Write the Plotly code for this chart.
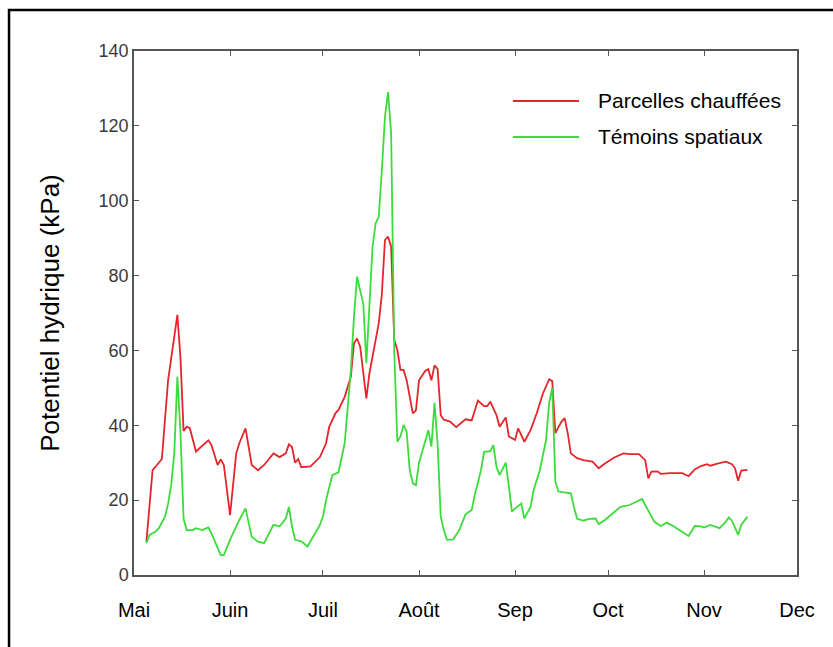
import pandas as pd
import plotly.graph_objects as go

# Jours écoulés depuis le 1er mai et potentiel hydrique (kPa)
start_date = "2019-05-01"

red_days = [4,6,7,9,11,12,14,15,16,17,18,20,22,24,25,27,28,29,31,33,34,36,38,40,42,45,47,49,50,51,52,53,54,57,60,62,63,65,66,68,70,71,72,73,75,76,78,79,80,81,82,83,84,85,86,87,88,90,91,92,94,95,96,97,98,99,100,102,104,106,107,109,110,111,113,114,115,117,118,120,121,123,124,126,128,130,132,134,135,136,137,138,139,140,141,143,145,147,148,150,152,155,158,160,163,165,166,167,169,170,173,177,179,181,183,185,186,188,191,193,194,195,196,198]
red_vals = [8.9,28,29,31,52,58,69.5,58,38.5,39.6,39.3,33,34.6,36,34.7,29.4,30.9,29.4,16,32.5,35.2,39.2,29.4,28,29.4,32.5,31.5,32.5,34.9,34.2,30,31,28.8,29,31.5,35.2,39.6,43.2,44.1,47.6,53,61.9,63.2,61,47.2,53.9,62.8,67.2,75,89.5,90.4,87.7,62.8,60.1,54.8,54.8,52.1,43.2,44,52,54.5,55,52,56,55,42.7,41.5,41,39.5,40.8,41.6,41.3,44.1,46.6,45.1,45.1,46.3,42.7,39.6,42.1,37,36.1,39.2,35.6,38.7,43.2,48.5,52.3,51.8,37.9,39.5,41,41.9,37.9,32.5,31.2,30.7,30.5,30.3,28.5,29.8,31.4,32.5,32.3,32.3,30.7,25.8,27.6,27.7,27,27.2,27.2,26.4,28.2,29.1,29.6,29.2,29.7,30.3,29.6,28.5,25.2,27.9,28.1]

green_days = [4,5,7,8,10,11,12,13,14,15,16,17,19,20,22,24,25,28,29,31,34,36,38,40,42,43,45,47,49,50,51,52,54,56,58,60,61,62,64,66,68,69,70,71,72,73,74,75,76,77,78,79,80,81,82,83,84,85,86,87,88,89,90,91,92,93,94,95,96,97,98,99,100,101,103,105,107,109,110,112,113,115,116,117,118,120,121,122,123,125,126,128,129,131,133,134,135,136,137,140,141,142,143,145,147,149,150,152,155,157,160,162,164,165,167,168,170,172,174,176,179,181,183,184,186,189,191,192,193,195,196,198]
green_vals = [8.5,10.7,11.6,12.5,15.6,19,24,32.5,53,38,15,12,12,12.5,12,12.7,11.1,5.3,5.3,9.4,14.7,17.8,10.2,8.9,8.5,10.2,13.4,13,15.1,18.2,13,9.4,9,7.6,10.5,13.4,15.6,20,26.7,27.4,35.2,44.1,54.8,69,79.7,76,72.6,56.6,72,87.7,94,95.7,108,122.4,129,118,60,35.6,37,40.1,38.3,28,24.5,24,30,33,36,38.7,34.3,46,35,15.6,12,9.4,9.5,12,16.2,17.4,21.4,28,32.9,33.1,34.7,28.9,26.7,30,23.6,16.9,17.8,19.1,15.1,18.2,22.7,28,36.1,46,50,25,22.3,21.8,21.8,18.2,15.1,14.5,15,15.1,13.6,14.7,16.9,18.2,18.7,19.6,20.3,18.7,15.6,14.2,13.1,14,13.1,12,10.4,13.1,13,12.7,13.4,12.5,14.2,15.4,14.5,10.7,13.4,15.6]

month_ticks = ["2019-05-01","2019-06-01","2019-07-01","2019-08-01","2019-09-01","2019-10-01","2019-11-01","2019-12-01"]
month_labels = ["Mai","Juin","Juil","Août","Sep","Oct","Nov","Dec"]
y_ticks = [0,20,40,60,80,100,120,140]

series_names = ["Parcelles chauffées", "Témoins spatiaux"]
RED = "#e3262b"
GREEN = "#3bdc3b"

t0 = pd.Timestamp(start_date)
red_dates = t0 + pd.to_timedelta(red_days, unit="D")
green_dates = t0 + pd.to_timedelta(green_days, unit="D")

FONT = "Arial, 'Liberation Sans', Helvetica, sans-serif"

fig = go.Figure()
fig.add_trace(go.Scatter(x=red_dates, y=red_vals, mode="lines", name=series_names[0],
                         line=dict(color=RED, width=1.8), showlegend=False))
fig.add_trace(go.Scatter(x=green_dates, y=green_vals, mode="lines", name=series_names[1],
                         line=dict(color=GREEN, width=1.8), showlegend=False))

axis_common = dict(showline=True, linecolor="#555555", linewidth=1.5, mirror="ticks",
                   ticks="inside", ticklen=5, tickwidth=1.2, tickcolor="#555555",
                   showgrid=False, zeroline=False)

fig.update_xaxes(type="date", range=[month_ticks[0], month_ticks[-1]],
                 tickvals=month_ticks, ticktext=month_labels,
                 tickfont=dict(family=FONT, size=20, color="#000000"),
                 ticklabelstandoff=16, **axis_common)
fig.update_yaxes(range=[0, 140], tickvals=y_ticks,
                 tickfont=dict(family=FONT, size=18, color="#3a3a3a"),
                 title=dict(text="Potentiel hydrique (kPa)", standoff=32,
                            font=dict(family=FONT, size=26, color="#000000")),
                 **axis_common)

# Légende dessinée à la main (traits longs comme dans l'original)
leg_items = [(0.9046, RED, series_names[0]), (0.8359, GREEN, series_names[1])]
shapes = []
annotations = []
for yy, col, txt in leg_items:
    shapes.append(dict(type="line", xref="paper", yref="paper", x0=0.5716, x1=0.6712,
                       y0=yy, y1=yy, line=dict(color=col, width=2)))
    annotations.append(dict(xref="paper", yref="paper", x=0.6968, y=yy, text=txt,
                            showarrow=False, xanchor="left", yanchor="middle",
                            font=dict(family=FONT, size=21, color="#000000")))

# cadre noir extérieur
shapes.append(dict(type="rect", xref="paper", yref="paper", x0=-0.1885, x1=1.2,
                   y0=-0.3, y1=1.0782, line=dict(color="#000000", width=2.5),
                   fillcolor="rgba(0,0,0,0)", layer="below"))

fig.update_layout(width=833, height=647,
                  margin=dict(l=134, r=36, t=51, b=72),
                  paper_bgcolor="white", plot_bgcolor="white",
                  shapes=shapes, annotations=annotations,
                  font=dict(family=FONT))

fig.write_html("out.html")
